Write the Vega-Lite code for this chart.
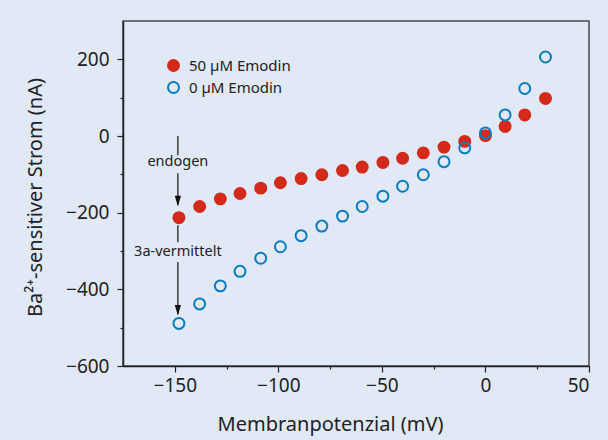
{
  "$schema": "https://vega.github.io/schema/vega-lite/v6.json",
  "width": 466,
  "height": 345,
  "autosize": {"type": "none"},
  "padding": {"left": 123, "top": 21, "right": 19, "bottom": 74},
  "background": "#e1e9f7",
  "config": {
    "view": {"stroke": "#4a4a4a", "strokeWidth": 1.5},
    "font": "Noto Sans",
    "axis": {
      "grid": false,
      "domainColor": "#222222",
      "domainWidth": 1.5,
      "tickColor": "#222222",
      "tickWidth": 1.2,
      "labelColor": "#222222",
      "titleColor": "#222222",
      "labelFontSize": 19,
      "titleFontSize": 20,
      "titleFontWeight": "normal"
    }
  },
  "datasets": {
    "pts": [
      {"V": -148, "I": -213, "serie": "50 µM Emodin"},
      {"V": -138, "I": -184, "serie": "50 µM Emodin"},
      {"V": -128, "I": -164, "serie": "50 µM Emodin"},
      {"V": -118.5, "I": -150, "serie": "50 µM Emodin"},
      {"V": -108.5, "I": -136, "serie": "50 µM Emodin"},
      {"V": -99, "I": -122, "serie": "50 µM Emodin"},
      {"V": -89, "I": -111, "serie": "50 µM Emodin"},
      {"V": -79, "I": -101, "serie": "50 µM Emodin"},
      {"V": -69, "I": -90, "serie": "50 µM Emodin"},
      {"V": -59.5, "I": -81, "serie": "50 µM Emodin"},
      {"V": -49.5, "I": -69, "serie": "50 µM Emodin"},
      {"V": -40, "I": -58, "serie": "50 µM Emodin"},
      {"V": -30, "I": -44, "serie": "50 µM Emodin"},
      {"V": -20, "I": -29, "serie": "50 µM Emodin"},
      {"V": -10, "I": -14, "serie": "50 µM Emodin"},
      {"V": 0, "I": 1, "serie": "50 µM Emodin"},
      {"V": 9.5, "I": 25, "serie": "50 µM Emodin"},
      {"V": 19, "I": 55, "serie": "50 µM Emodin"},
      {"V": 29, "I": 98, "serie": "50 µM Emodin"},
      {"V": -148, "I": -489, "serie": "\u20070 µM Emodin"},
      {"V": -138, "I": -438, "serie": "\u20070 µM Emodin"},
      {"V": -128, "I": -391, "serie": "\u20070 µM Emodin"},
      {"V": -118.5, "I": -353, "serie": "\u20070 µM Emodin"},
      {"V": -108.5, "I": -319, "serie": "\u20070 µM Emodin"},
      {"V": -99, "I": -289, "serie": "\u20070 µM Emodin"},
      {"V": -89, "I": -260, "serie": "\u20070 µM Emodin"},
      {"V": -79, "I": -235, "serie": "\u20070 µM Emodin"},
      {"V": -69, "I": -209, "serie": "\u20070 µM Emodin"},
      {"V": -59.5, "I": -184, "serie": "\u20070 µM Emodin"},
      {"V": -49.5, "I": -157, "serie": "\u20070 µM Emodin"},
      {"V": -40, "I": -131, "serie": "\u20070 µM Emodin"},
      {"V": -30, "I": -101, "serie": "\u20070 µM Emodin"},
      {"V": -20, "I": -67, "serie": "\u20070 µM Emodin"},
      {"V": -10, "I": -31, "serie": "\u20070 µM Emodin"},
      {"V": 0, "I": 8, "serie": "\u20070 µM Emodin"},
      {"V": 9.5, "I": 55, "serie": "\u20070 µM Emodin"},
      {"V": 19, "I": 124, "serie": "\u20070 µM Emodin"},
      {"V": 29, "I": 206, "serie": "\u20070 µM Emodin"}
    ],
    "segs": [
      {"x": -148.5, "y": 0, "y2": -50},
      {"x": -148.5, "y": -97, "y2": -180},
      {"x": -148.5, "y": -233, "y2": -277},
      {"x": -148.5, "y": -329, "y2": -465}
    ],
    "heads": [
      {"x": -148.5, "y": -183},
      {"x": -148.5, "y": -468}
    ],
    "labels": [
      {"x": -148.5, "y": -69, "t": "endogen"},
      {"x": -148.5, "y": -303, "t": "3a-vermittelt"}
    ]
  },
  "layer": [
    {
      "mark": {"type": "rule", "color": "#111111", "strokeWidth": 1.3},
      "encoding": {
        "x": {"datum": 0, "type": "quantitative", "scale": {"domain": [-175, 50], "nice": false, "zero": false}}
      }
    },
    {
      "mark": {"type": "rule", "color": "#111111", "strokeWidth": 1.3},
      "encoding": {
        "y": {"datum": 0, "type": "quantitative"}
      }
    },
    {
      "data": {"name": "segs"},
      "mark": {"type": "rule", "color": "#111111", "strokeWidth": 1.2},
      "encoding": {
        "x": {"field": "x", "type": "quantitative"},
        "y": {"field": "y", "type": "quantitative"},
        "y2": {"field": "y2"}
      }
    },
    {
      "data": {"name": "heads"},
      "mark": {"type": "point", "shape": "M-0.3,-1L0.3,-1L0,0Z", "filled": true, "color": "#111111", "size": 440, "opacity": 1},
      "encoding": {
        "x": {"field": "x", "type": "quantitative"},
        "y": {"field": "y", "type": "quantitative"}
      }
    },
    {
      "data": {"name": "labels"},
      "mark": {"type": "text", "fontSize": 14.5, "color": "#222222", "align": "center", "baseline": "middle"},
      "encoding": {
        "x": {"field": "x", "type": "quantitative"},
        "y": {"field": "y", "type": "quantitative"},
        "text": {"field": "t"}
      }
    },
    {
      "data": {"name": "pts"},
      "mark": {"type": "point", "size": 120, "strokeWidth": 2, "opacity": 1},
      "encoding": {
        "x": {
          "field": "V", "type": "quantitative",
          "scale": {"domain": [-175, 50], "nice": false, "zero": false},
          "axis": {
            "title": "Membranpotenzial (mV)",
            "values": [-150, -125, -100, -75, -50, -25, 0, 25, 50],
            "labelExpr": "datum.value % 50 === 0 ? datum.label : ''",
            "tickSize": {"condition": {"test": "datum.value % 50 === 0", "value": 6}, "value": 3},
            "labelPadding": 4,
            "titleX": 207,
            "titleY": 58,
            "titleAnchor": null,
            "titleAlign": "center",
            "titleBaseline": "middle"
          }
        },
        "y": {
          "field": "I", "type": "quantitative",
          "scale": {"domain": [-600, 300], "nice": false, "zero": false},
          "axis": {
            "title": "Ba²⁺-sensitiver Strom (nA)",
            "values": [-600, -500, -400, -300, -200, -100, 0, 100, 200],
            "labelExpr": "datum.value % 200 === 0 ? datum.label : ''",
            "tickSize": {"condition": {"test": "datum.value % 200 === 0", "value": 6}, "value": 3},
            "labelPadding": 8,
            "titleX": -88,
            "titleY": 176,
            "titleAngle": -90,
            "titleAlign": "center",
            "titleBaseline": "middle"
          }
        },
        "stroke": {
          "field": "serie", "type": "nominal",
          "scale": {"domain": ["50 µM Emodin", "\u20070 µM Emodin"], "range": ["#d42a1a", "#0a7bc1"]},
          "legend": {
            "title": null,
            "orient": "none",
            "legendX": 43,
            "legendY": 37,
            "padding": 0,
            "labelFontSize": 15,
            "labelColor": "#222222",
            "symbolSize": 120,
            "symbolStrokeWidth": 2,
            "rowPadding": 3,
            "labelOffset": 8
          }
        },
        "fill": {
          "field": "serie", "type": "nominal",
          "scale": {"domain": ["50 µM Emodin", "\u20070 µM Emodin"], "range": ["#d42a1a", "transparent"]},
          "legend": {
            "title": null,
            "orient": "none",
            "legendX": 43,
            "legendY": 37,
            "padding": 0,
            "labelFontSize": 15,
            "labelColor": "#222222",
            "symbolSize": 120,
            "symbolStrokeWidth": 2,
            "rowPadding": 3,
            "labelOffset": 8
          }
        }
      }
    }
  ]
}
